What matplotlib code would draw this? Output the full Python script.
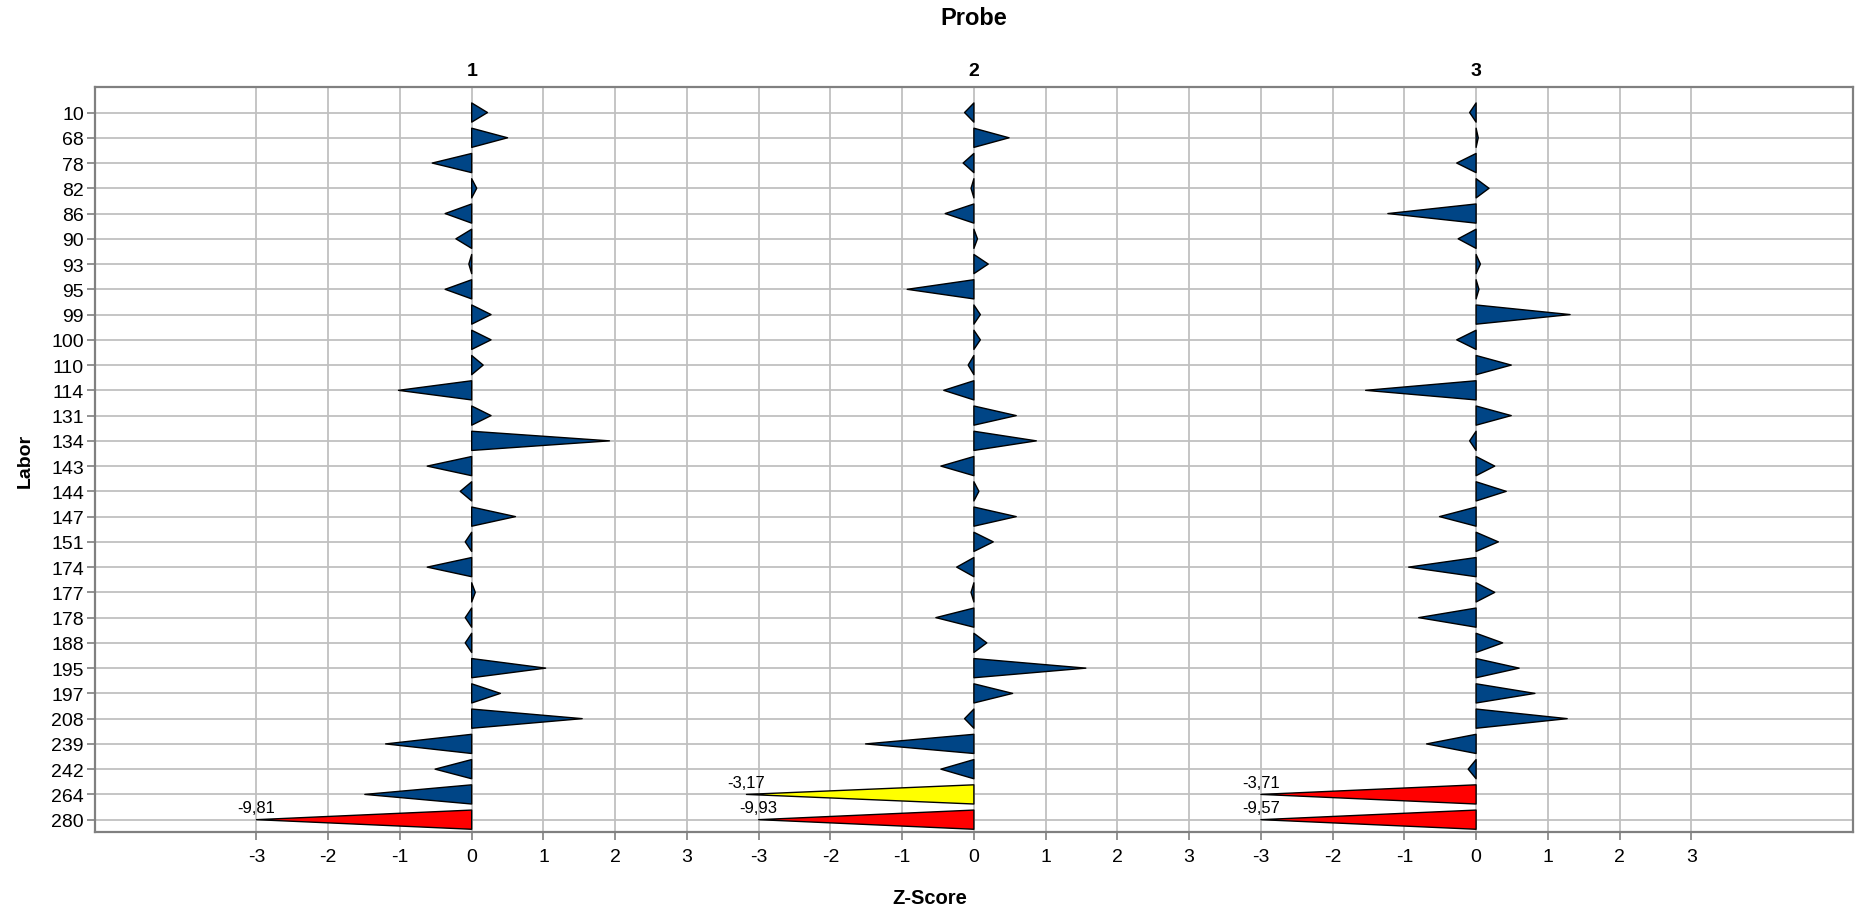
import numpy as np
import matplotlib
matplotlib.use('Agg')
import matplotlib.pyplot as plt
from matplotlib.patches import Polygon
from matplotlib.collections import PatchCollection
from matplotlib.transforms import blended_transform_factory

plt.rcParams['font.family'] = ['Liberation Sans', 'DejaVu Sans']

labs = ['10', '68', '78', '82', '86', '90', '93', '95', '99', '100', '110', '114',
        '131', '134', '143', '144', '147', '151', '174', '177', '178', '188', '195',
        '197', '208', '239', '242', '264', '280']
probes = ['1', '2', '3']

# z-scores per probe, same order as labs
z1 = [0.22, 0.50, -0.55, 0.07, -0.37, -0.22, -0.04, -0.37, 0.27, 0.27, 0.16, -1.02,
      0.27, 1.92, -0.62, -0.16, 0.61, -0.09, -0.62, 0.05, -0.09, -0.09, 1.03,
      0.40, 1.54, -1.20, -0.51, -1.49, -9.81]
z2 = [-0.13, 0.49, -0.15, -0.04, -0.40, 0.05, 0.20, -0.93, 0.09, 0.09, -0.08, -0.42,
      0.59, 0.87, -0.46, 0.07, 0.59, 0.27, -0.24, -0.04, -0.53, 0.18, 1.56,
      0.54, -0.13, -1.51, -0.46, -3.17, -9.93]
z3 = [-0.09, 0.03, -0.27, 0.18, -1.23, -0.25, 0.06, 0.04, 1.31, -0.27, 0.49, -1.54,
      0.49, -0.09, 0.26, 0.42, -0.51, 0.31, -0.94, 0.26, -0.80, 0.37, 0.60,
      0.82, 1.27, -0.69, -0.11, -3.71, -9.57]
zscores = [z1, z2, z3]

ticks = [-3, -2, -1, 0, 1, 2, 3]
STEP = 7          # distance between probe blocks on the x axis
LIMIT = 3.5       # beyond this the bar is cut at +-3 and marked red
HALF = 0.38       # half height of a wedge, in rows

BLUE = '#004586'
YELLOW = '#ffff00'
RED = '#ff0000'
GRID = '#c0c0c0'
FRAME = '#808080'

fig = plt.figure(figsize=(18.6, 9.12), dpi=100)
ax = fig.add_axes([0.0511, 0.0863, 0.945, 0.8169])

n = len(labs)
rows = np.arange(n)

patches = []
colors = []
for k, zs in enumerate(zscores):
    off = k * STEP
    for i, z in zip(rows, zs):
        if abs(z) > LIMIT:
            shown = np.sign(z) * 3
            col = RED
        elif abs(z) > 2:
            shown = z
            col = YELLOW
        else:
            shown = z
            col = BLUE
        patches.append(Polygon([(off, i - HALF), (off + shown, i), (off, i + HALF)], closed=True))
        colors.append(col)
        if abs(z) > 3:
            ax.text(off + shown, i - 0.3, ('%.2f' % z).replace('.', ','),
                    ha='center', va='baseline', fontsize=12, zorder=5)

pc = PatchCollection(patches, facecolors=colors, edgecolors='black', linewidths=1.0, zorder=3)
ax.add_collection(pc)

# grid: one line per row, vertical lines every unit over the three blocks
for i in rows:
    ax.axhline(i, color=GRID, lw=1.3, zorder=1)
for x in range(-3, 2 * STEP + 4):
    ax.axvline(x, color=GRID, lw=1.3, zorder=1)

xt = [k * STEP + t for k in range(3) for t in ticks]
ax.set_xticks(xt)
ax.set_xticklabels([str(t) for k in range(3) for t in ticks], fontsize=14)
ax.set_yticks(rows)
ax.set_yticklabels(labs, fontsize=14)
ax.set_xlim(-5.25, 19.25)
ax.set_ylim(n - 0.5, -1.0)

ax.tick_params(axis='both', direction='out', length=6, width=1.2, color=FRAME)
ax.tick_params(axis='x', pad=5)
ax.tick_params(axis='y', pad=2)
for s in ax.spines.values():
    s.set_color(FRAME)
    s.set_linewidth(1.6)

# probe headers above the frame
tr = blended_transform_factory(ax.transData, ax.transAxes)
for k, p in enumerate(probes):
    ax.text(k * STEP, 1.0223, p, transform=tr, ha='center', va='center',
            fontsize=14, fontweight='bold')

ax.text(7, 1 + (88.3 - 19) / 745, 'Probe', transform=tr, ha='center', va='center',
        fontsize=17, fontweight='bold')
fig.text(0.5, 1 - 899 / 912, 'Z-Score', ha='center', va='center', fontsize=14.5, fontweight='bold')
fig.text(25 / 1860, 1 - 461 / 912, 'Labor', ha='center', va='center', rotation=90,
         fontsize=14, fontweight='bold')

fig.savefig('out.png', dpi=100)
